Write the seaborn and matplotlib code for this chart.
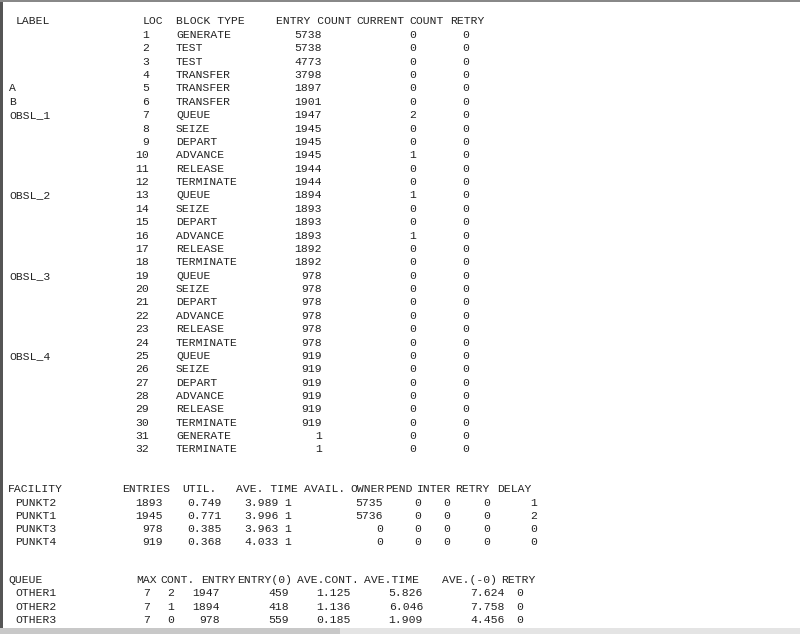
import matplotlib
matplotlib.use("Agg")
import matplotlib.pyplot as plt
import seaborn as sns
from matplotlib.patches import Rectangle

# ---- data: block section ----
labels = {5: "A", 6: "B", 7: "OBSL_1", 13: "OBSL_2", 19: "OBSL_3", 25: "OBSL_4"}
locs = list(range(1, 33))
block_types = ["GENERATE", "TEST", "TEST", "TRANSFER", "TRANSFER", "TRANSFER",
               "QUEUE", "SEIZE", "DEPART", "ADVANCE", "RELEASE", "TERMINATE",
               "QUEUE", "SEIZE", "DEPART", "ADVANCE", "RELEASE", "TERMINATE",
               "QUEUE", "SEIZE", "DEPART", "ADVANCE", "RELEASE", "TERMINATE",
               "QUEUE", "SEIZE", "DEPART", "ADVANCE", "RELEASE", "TERMINATE",
               "GENERATE", "TERMINATE"]
entry_counts = [5738, 5738, 4773, 3798, 1897, 1901, 1947, 1945, 1945, 1945, 1944, 1944,
                1894, 1893, 1893, 1893, 1892, 1892, 978, 978, 978, 978, 978, 978,
                919, 919, 919, 919, 919, 919, 1, 1]
current_counts = [0, 0, 0, 0, 0, 0, 2, 0, 0, 1, 0, 0, 1, 0, 0, 1, 0, 0,
                  0, 0, 0, 0, 0, 0, 0, 0, 0, 0, 0, 0, 0, 0]
retry_counts = [0] * 32

# ---- data: facility section ----
facilities = ["PUNKT2", "PUNKT1", "PUNKT3", "PUNKT4"]
fac_entries = [1893, 1945, 978, 919]
fac_util = ["0.749", "0.771", "0.385", "0.368"]
fac_avetime = ["3.989", "3.996", "3.963", "4.033"]
fac_avail = [1, 1, 1, 1]
fac_owner = [5735, 5736, 0, 0]
fac_pend = [0, 0, 0, 0]
fac_inter = [0, 0, 0, 0]
fac_retry = [0, 0, 0, 0]
fac_delay = [1, 2, 0, 0]

# ---- data: queue section ----
queues = ["OTHER1", "OTHER2", "OTHER3"]
q_max = [7, 7, 7]
q_cont = [2, 1, 0]
q_entry = [1947, 1894, 978]
q_entry0 = [459, 418, 559]
q_avecont = ["1.125", "1.136", "0.185"]
q_avetime = ["5.826", "6.046", "1.909"]
q_ave0 = ["7.624", "7.758", "4.456"]
q_retry = [0, 0, 0]

sns.set_theme(style="white")
plt.rcParams["font.family"] = ["Liberation Mono", "DejaVu Sans Mono"]

fig = plt.figure(figsize=(8, 6.34), dpi=100)
ax = fig.add_axes([0, 0, 1, 1])
ax.set_xlim(0, 800)
ax.set_ylim(634, 0)
ax.axis("off")
fig.patch.set_facecolor("white")

FS = 8.2
COL = "#222222"

def t(x, y, s, ha="left"):
    ax.text(x, y, str(s), ha=ha, va="center", fontsize=FS, color=COL)

# frame
ax.add_patch(Rectangle((0, 0), 2.5, 628, color="#555555", lw=0))
ax.add_patch(Rectangle((0, 0), 800, 1.5, color="#888888", lw=0))
ax.add_patch(Rectangle((0, 628), 800, 6, color="#e4e4e4", lw=0))
ax.add_patch(Rectangle((0, 628), 340, 6, color="#c8c8c8", lw=0))

# block section
y0, dy = 21.5, 13.37
for x, s in [(16, "LABEL"), (143, "LOC"), (176, "BLOCK TYPE"), (276, "ENTRY COUNT"),
             (356, "CURRENT"), (409, "COUNT"), (450, "RETRY")]:
    t(x, y0, s)
for i, loc in enumerate(locs):
    y = 35 + i * dy
    if loc in labels:
        t(9, y, labels[loc])
    t(149, y, loc, "right")
    t(176, y, block_types[i])
    t(322, y, entry_counts[i], "right")
    t(413, y, current_counts[i], "center")
    t(466, y, retry_counts[i], "center")

# facility section
fy0 = 489
for x, s in [(8, "FACILITY"), (122, "ENTRIES"), (182, "UTIL."), (236, "AVE. TIME"),
             (304, "AVAIL."), (350, "OWNER"), (385, "PEND"), (417, "INTER"),
             (455, "RETRY"), (497, "DELAY")]:
    t(x, fy0, s)
for i, f in enumerate(facilities):
    y = 502.5 + i * 13.3
    t(15, y, f)
    t(163, y, fac_entries[i], "right")
    t(222, y, fac_util[i], "right")
    t(279, y, fac_avetime[i], "right")
    t(288, y, fac_avail[i], "center")
    t(383, y, fac_owner[i], "right")
    t(418, y, fac_pend[i], "center")
    t(447, y, fac_inter[i], "center")
    t(487, y, fac_retry[i], "center")
    t(537, y, fac_delay[i], "right")

# queue section
qy0 = 580
for x, s in [(8, "QUEUE"), (136, "MAX"), (160, "CONT."), (201, "ENTRY"),
             (237, "ENTRY(0)"), (297, "AVE.CONT."), (364, "AVE.TIME"),
             (442, "AVE.(-0)"), (501, "RETRY")]:
    t(x, qy0, s)
for i, q in enumerate(queues):
    y = 593.5 + i * 13.3
    t(15, y, q)
    t(147, y, q_max[i], "center")
    t(171, y, q_cont[i], "center")
    t(220, y, q_entry[i], "right")
    t(289, y, q_entry0[i], "right")
    t(351, y, q_avecont[i], "right")
    t(423, y, q_avetime[i], "right")
    t(505, y, q_ave0[i], "right")
    t(520, y, q_retry[i], "center")

fig.savefig("out.png", dpi=100, facecolor="white")
